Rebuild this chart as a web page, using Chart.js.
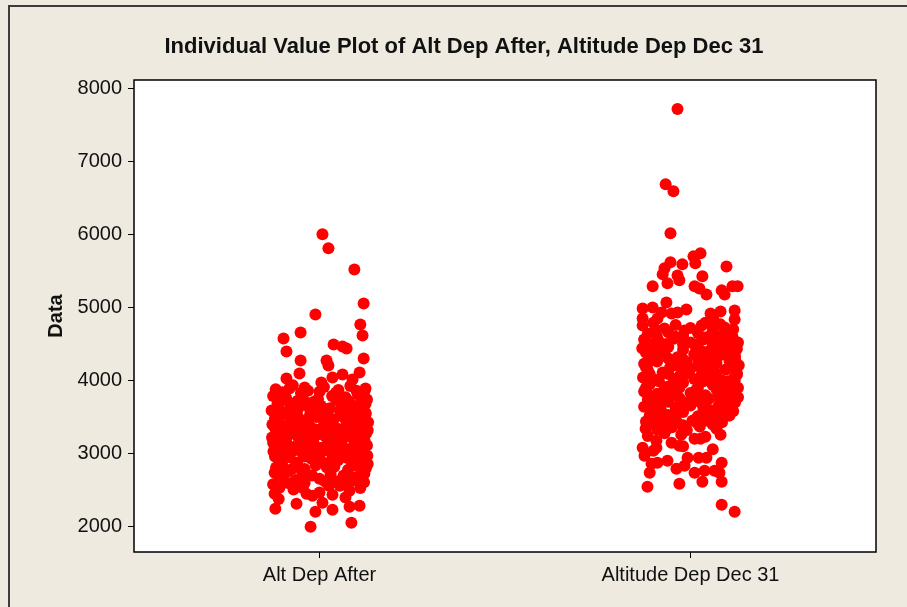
<!DOCTYPE html>
<html>
<head>
<meta charset="utf-8">
<title>Individual Value Plot</title>
<script src="https://cdn.jsdelivr.net/npm/chart.js@4.4.1/dist/chart.umd.min.js"></script>
<style>
  html, body { margin: 0; padding: 0; background: #eeeae0; overflow: hidden; }
  #wrap { position: relative; width: 907px; height: 607px; overflow: hidden; }
  #frame { position: absolute; left: 8px; top: 5px; width: 920px; height: 620px;
           border-top: 2px solid #3c3c3c; border-left: 2px solid #3c3c3c; }
  canvas { position: absolute; left: 0; top: 0; }
</style>
</head>
<body>
<div id="wrap">
  <div id="frame"></div>
  <canvas id="plot" width="907" height="607"></canvas>
</div>
<script>
const categories = ['Alt Dep After', 'Altitude Dep Dec 31'];
const yTicks = [2000, 3000, 4000, 5000, 6000, 7000, 8000];
const chartTitle = 'Individual Value Plot of Alt Dep After, Altitude Dep Dec 31';

// Alt Dep After: values and horizontal jitter
const altDepAfter = [
  6000, 5808, 5520, 5055, 4904, 4767, 4616, 4575, 4657, 4493, 4465, 4438, 4397, 4274, 4274,
  4301, 4205, 4109, 4096, 4082, 4027, 4041, 3972, 4013, 3904, 3890, 3890,
  3880, 3935, 3860, 3910, 3870, 3925, 3850,
  3840, 3830, 3845, 3835, 3860,
  3790, 3760, 3810, 3745, 3790, 3770, 3815, 3740,
  3730, 3720, 3710, 3735, 3715, 3720,
  3690, 3650, 3700, 3660, 3620, 3690, 3640, 3680,
  3630, 3600, 3640, 3620, 3625, 3570,
  3590, 3560, 3610, 3575, 3540, 3590, 3530, 3600,
  3540, 3520, 3540, 3520, 3515, 3550,
  3480, 3510, 3455, 3500, 3470, 3445, 3490, 3430,
  3440, 3430, 3445, 3430, 3420,
  3400, 3370, 3410, 3360, 3395, 3340, 3385, 3350,
  3350, 3330, 3350, 3330, 3345, 3320, 3345, 3320,
  3310, 3280, 3320, 3270, 3300, 3260, 3310, 3280,
  3250, 3240, 3260, 3240, 3245, 3235, 3250,
  3220, 3190, 3230, 3175, 3215, 3180, 3225, 3170,
  3150, 3140, 3160, 3130, 3150, 3130, 3155, 3110,
  3120, 3090, 3140, 3080, 3110, 3060, 3120,
  3060, 3050, 3060, 3040, 3055, 3060, 3050,
  3030, 2990, 3020, 2980, 3040, 2990, 3020, 2970,
  2960, 2950, 2960, 2940, 2960, 2940, 2960,
  2920, 2880, 2930, 2870, 2910, 2880, 2940,
  2840, 2830, 2840, 2810, 2830, 2800,
  2810, 2790, 2820, 2780, 2760, 2860,
  2700, 2730, 2720, 2700, 2690,
  2680, 2640, 2700, 2620, 2670, 2580, 2560,
  2600, 2600, 2560, 2580, 2610,
  2510, 2470, 2400, 2450, 2530, 2380,
  2739, 2452, 2247, 2000, 2054, 2205, 2232, 2274, 2288, 2315, 2329, 2438, 2493, 2726,
  2932, 2534, 2534, 2424, 2630, 2630, 2794, 2657, 2602, 2726
];
const altDepAfterJitter = [
  0.008, 0.024, 0.094, 0.119, -0.011, 0.110, 0.116, -0.097, -0.051, 0.038, 0.062, 0.073, -0.089, -0.051, 0.019,
  0.119, 0.024, 0.108, -0.054, 0.062, -0.089, 0.035, 0.005, 0.089, -0.040, -0.081, 0.124,
  -0.118, -0.072, -0.031, 0.012, 0.051, 0.083, 0.121,
  -0.100, -0.050, 0.000, 0.045, 0.100,
  -0.125, -0.090, -0.046, -0.004, 0.034, 0.070, 0.103, 0.128,
  -0.100, -0.060, -0.015, 0.045, 0.080, 0.112,
  -0.113, -0.078, -0.036, 0.003, 0.028, 0.061, 0.095, 0.124,
  -0.110, -0.075, -0.030, 0.010, 0.070, 0.100,
  -0.129, -0.094, -0.058, -0.015, 0.021, 0.055, 0.087, 0.118,
  -0.105, -0.060, -0.025, 0.015, 0.060, 0.125,
  -0.120, -0.081, -0.043, -0.008, 0.038, 0.072, 0.108, 0.131,
  -0.110, -0.080, -0.030, 0.025, 0.095,
  -0.127, -0.099, -0.064, -0.024, 0.012, 0.049, 0.082, 0.117,
  -0.120, -0.085, -0.050, -0.010, 0.030, 0.065, 0.100, 0.130,
  -0.116, -0.076, -0.039, 0.000, 0.031, 0.066, 0.098, 0.126,
  -0.105, -0.060, -0.025, 0.015, 0.045, 0.080, 0.112,
  -0.128, -0.090, -0.055, -0.017, 0.020, 0.057, 0.090, 0.122,
  -0.125, -0.090, -0.050, -0.015, 0.025, 0.060, 0.095, 0.128,
  -0.111, -0.070, -0.033, 0.006, 0.043, 0.076, 0.112,
  -0.100, -0.065, -0.025, 0.010, 0.045, 0.085, 0.115,
  -0.124, -0.083, -0.047, -0.010, 0.026, 0.062, 0.100, 0.129,
  -0.120, -0.080, -0.040, 0.000, 0.035, 0.075, 0.105,
  -0.105, -0.060, -0.022, 0.017, 0.050, 0.089, 0.119,
  -0.100, -0.060, -0.010, 0.020, 0.100, 0.125,
  -0.117, -0.040, 0.040, 0.077, -0.085, 0.130,
  -0.110, -0.040, 0.030, 0.065, 0.110,
  -0.100, -0.065, -0.020, 0.015, 0.095, -0.125, 0.055,
  -0.085, -0.040, 0.025, 0.070, 0.120,
  -0.070, 0.000, 0.070, -0.035, 0.110, -0.110,
  -0.121, -0.121, -0.119, -0.024, 0.086, -0.011, 0.035, 0.081, 0.108, -0.062, 0.008, 0.035, 0.081, 0.121,
  0.121, -0.108, -0.046, -0.019, 0.054, 0.089, -0.073, 0.000, 0.032, -0.046
];

// Altitude Dep Dec 31
const altDepDec31 = [
  7712, 6685, 6589, 6014, 5740, 5698, 5603, 5616, 5589, 5561, 5534, 5452, 5438, 5370, 5425,
  5329, 5288, 5288, 5260, 5178, 5233, 5178, 5288, 5288, 5068, 4986, 5000, 4931, 4918, 4931,
  4972, 4918, 4945, 4959, 4849, 4849, 4835, 4835, 4753, 4712, 4685, 4753, 4726,
  4603, 4438, 4342, 4233, 4000, 4000, 3794, 3753, 3562, 3520,
  3342, 3178, 3082, 3082, 2972, 2863, 2739, 2548, 2589, 2616, 2616, 2877, 2904, 2794, 2835,
  2945, 2739, 2945, 2945, 2767, 2767, 2877, 2739, 3205, 3205, 3260, 3109, 3150, 3383, 3342,
  3383, 3479, 3452, 3520, 2301, 2205,
  4790, 4760, 4790, 4770,
  4700, 4720, 4690, 4700,
  4640, 4660, 4610, 4650, 4620, 4600,
  4590, 4600, 4590, 4610,
  4560, 4530, 4570, 4520, 4560, 4540, 4500,
  4490, 4500, 4490, 4500, 4480, 4500, 4520,
  4440, 4410, 4460, 4420, 4450, 4400, 4460, 4430,
  4380, 4400, 4390, 4400, 4390,
  4340, 4370, 4320, 4360, 4310, 4350, 4330,
  4290, 4300, 4290, 4300, 4280, 4290,
  4230, 4260, 4210, 4250, 4200, 4240, 4270, 4210,
  4180, 4180, 4190, 4200, 4180, 4200,
  4140, 4110, 4160, 4120, 4150, 4100,
  4090, 4090, 4100, 4080, 4100, 4080,
  4040, 4010, 4060, 4020, 4070, 4000, 4040,
  3990, 3990, 3990, 3980, 3990,
  3950, 3920, 3970, 3900, 3940, 3960, 3900,
  3900, 3880, 3900, 3870, 3880, 3880,
  3850, 3820, 3860, 3830, 3800, 3850, 3810,
  3770, 3790, 3780, 3790,
  3740, 3760, 3720, 3750, 3730, 3770,
  3700, 3710, 3700, 3690, 3700, 3700,
  3640, 3670, 3630, 3660, 3610, 3650, 3620,
  3600, 3590, 3600, 3580,
  3560, 3530, 3570, 3510, 3550, 3580,
  3500, 3490, 3510, 3500,
  3440, 3460, 3420, 3450, 3470, 3430,
  3400, 3410, 3390, 3410, 3400,
  3330, 3360, 3320, 3370, 3340,
  3240, 3260, 3230, 3280,
  3040, 3100, 3060
];
const altDepDec31Jitter = [
  -0.035, -0.067, -0.046, -0.054, 0.027, 0.008, 0.013, -0.054, -0.022, 0.097, -0.070, -0.075, -0.035, -0.030, 0.032,
  -0.062, -0.102, 0.011, 0.024, 0.043, 0.084, 0.092, 0.113, 0.127, -0.065, -0.129, -0.102, -0.078, -0.051, -0.035,
  -0.011, 0.054, 0.081, 0.119, -0.129, -0.089, 0.062, 0.119, -0.129, -0.070, -0.016, 0.030, 0.092,
  0.113, -0.124, 0.110, -0.116, 0.119, -0.116, -0.110, 0.110, 0.100, -0.110,
  -0.121, -0.092, -0.092, -0.129, -0.124, -0.105, -0.110, -0.116, -0.030, 0.032, 0.084, -0.089, -0.062, -0.038, -0.016,
  -0.008, 0.011, 0.022, 0.043, 0.038, 0.065, 0.084, 0.078, 0.011, 0.027, 0.081, -0.030, -0.051, -0.084, -0.062,
  -0.022, 0.016, 0.043, 0.105, 0.084, 0.119,
  -0.100, -0.040, 0.040, 0.080,
  -0.095, 0.000, 0.060, 0.115,
  -0.115, -0.060, -0.020, 0.020, 0.055, 0.100,
  -0.090, -0.040, 0.040, 0.075,
  -0.125, -0.085, -0.045, 0.000, 0.035, 0.075, 0.110,
  -0.105, -0.065, -0.020, 0.020, 0.060, 0.095, 0.128,
  -0.130, -0.100, -0.060, -0.020, 0.015, 0.050, 0.090, 0.125,
  -0.120, -0.080, 0.035, 0.070, 0.105,
  -0.110, -0.070, -0.035, 0.010, 0.045, 0.080, 0.120,
  -0.100, -0.060, -0.020, 0.020, 0.055, 0.120,
  -0.125, -0.090, -0.050, -0.010, 0.030, 0.070, 0.105, 0.130,
  -0.120, -0.055, -0.030, 0.020, 0.060, 0.110,
  -0.115, -0.075, 0.000, 0.040, 0.095, 0.125,
  -0.110, -0.060, -0.010, 0.030, 0.070, 0.125,
  -0.128, -0.095, -0.030, 0.010, 0.050, 0.085, 0.118,
  -0.085, -0.045, 0.035, 0.075, 0.100,
  -0.110, -0.060, -0.020, 0.020, 0.060, 0.110, 0.128,
  -0.120, -0.070, -0.030, 0.015, 0.070, 0.120,
  -0.125, -0.090, -0.045, 0.000, 0.040, 0.090, 0.115,
  -0.080, -0.050, 0.030, 0.075,
  -0.115, -0.030, 0.010, 0.050, 0.100, 0.128,
  -0.100, -0.060, -0.015, 0.030, 0.080, 0.120,
  -0.125, -0.085, -0.040, 0.000, 0.035, 0.075, 0.110,
  -0.080, -0.035, 0.050, 0.115,
  -0.105, -0.060, -0.020, 0.020, 0.060, 0.095,
  -0.090, -0.040, 0.040, 0.075,
  -0.120, -0.075, -0.035, 0.005, 0.045, 0.085,
  -0.100, -0.060, -0.020, 0.020, 0.060,
  -0.090, -0.050, -0.010, 0.025, 0.070,
  -0.115, -0.025, 0.040, -0.070,
  -0.100, -0.020, 0.060
];

const fontFamily = '"Liberation Sans", Arial, sans-serif';

function toPoints(values, jitter, pos) {
  return values.map((v, i) => ({ x: pos + jitter[i], y: v }));
}

// white plot area, black frame, and the chart title
const plotFrame = {
  id: 'plotFrame',
  beforeDraw(chart) {
    const { ctx, chartArea: a } = chart;
    ctx.save();
    ctx.fillStyle = '#ffffff';
    ctx.fillRect(a.left, a.top, a.right - a.left, a.bottom - a.top);
    ctx.restore();
  },
  beforeDatasetsDraw(chart) {
    const { ctx, chartArea: a } = chart;
    ctx.save();
    ctx.strokeStyle = '#000';
    ctx.lineWidth = 1.5;
    ctx.strokeRect(a.left, a.top, a.right - a.left, a.bottom - a.top);
    ctx.restore();
  },
  afterDraw(chart) {
    const ctx = chart.ctx;
    ctx.save();
    ctx.font = 'bold 22px ' + fontFamily;
    ctx.fillStyle = '#111';
    ctx.textAlign = 'center';
    ctx.textBaseline = 'middle';
    const w = ctx.measureText(chartTitle).width;
    const sx = Math.min(1, 678 / w);
    ctx.translate(464, 47);
    ctx.scale(sx, 1);
    ctx.fillText(chartTitle, 0, 0);
    ctx.restore();
  }
};

const ctx = document.getElementById('plot').getContext('2d');
new Chart(ctx, {
  type: 'scatter',
  data: {
    datasets: [
      { label: categories[0], data: toPoints(altDepAfter, altDepAfterJitter, 1) },
      { label: categories[1], data: toPoints(altDepDec31, altDepDec31Jitter, 2) }
    ]
  },
  options: {
    responsive: false,
    animation: false,
    layout: { padding: { top: 80, right: 31, bottom: 0, left: 0 } },
    elements: {
      point: { radius: 6, backgroundColor: '#ff0000', borderWidth: 0, hoverRadius: 6 }
    },
    plugins: {
      legend: { display: false },
      title: { display: false },
      tooltip: { enabled: false }
    },
    scales: {
      x: {
        type: 'linear',
        min: 0.5,
        max: 2.5,
        afterBuildTicks: s => { s.ticks = categories.map((c, i) => ({ value: i + 1 })); },
        afterFit: s => { s.height = 55; },
        ticks: {
          callback: (v, i) => categories[i],
          font: { family: fontFamily, size: 20 },
          color: '#111',
          padding: 5,
          maxRotation: 0
        },
        grid: { drawOnChartArea: false, tickLength: 6, color: '#000' },
        border: { display: false }
      },
      y: {
        min: 1655,
        max: 8110,
        afterBuildTicks: s => { s.ticks = yTicks.map(v => ({ value: v })); },
        afterFit: s => { s.width = 134; },
        ticks: {
          callback: v => String(v),
          font: { family: fontFamily, size: 20 },
          color: '#111',
          padding: 6
        },
        grid: { drawOnChartArea: false, tickLength: 6, color: '#000' },
        border: { display: false },
        title: {
          display: true,
          text: 'Data',
          font: { family: fontFamily, size: 20, weight: 'bold' },
          color: '#111',
          padding: { top: 44, bottom: 0 }
        }
      }
    }
  },
  plugins: [plotFrame]
});
</script>
</body>
</html>
